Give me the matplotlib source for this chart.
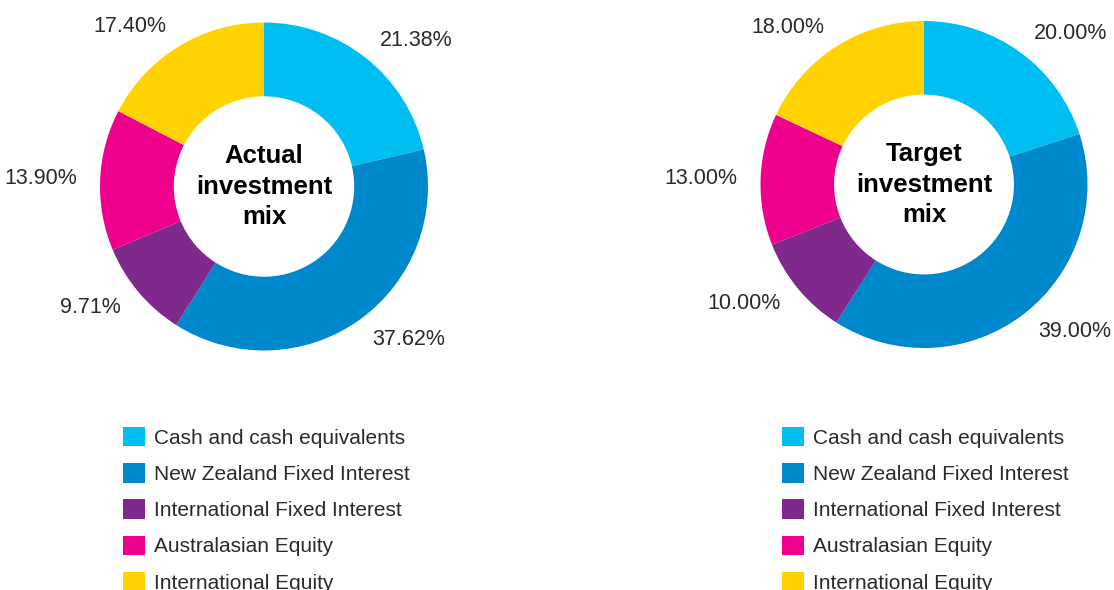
import matplotlib
matplotlib.use("Agg")
import matplotlib.pyplot as plt

plt.rcParams['font.family'] = ['Liberation Sans', 'DejaVu Sans']

categories = ["Cash and cash equivalents", "New Zealand Fixed Interest",
              "International Fixed Interest", "Australasian Equity",
              "International Equity"]
actual_values = [21.38, 37.62, 9.71, 13.90, 17.40]
target_values = [20.00, 39.00, 10.00, 13.00, 18.00]
colors = ["#00BDF2", "#0088CC", "#80298C", "#EC008C", "#FFD200"]
titles = ["Actual\ninvestment\nmix", "Target\ninvestment\nmix"]

W, H = 1114, 590
fig = plt.figure(figsize=(W / 100, H / 100), dpi=100)

text_color = "#2a2a2a"
lim = 1.4


def add_donut(cx, cy, r, values, title):
    size = 2 * lim * r
    ax = fig.add_axes([(cx - size / 2) / W, (H - cy - size / 2) / H, size / W, size / H])
    labels = [f"{v:.2f}%" for v in values]
    wedges, _ = ax.pie(values, colors=colors, startangle=90, counterclock=False,
                       labels=labels, labeldistance=1.14,
                       wedgeprops=dict(width=0.45, linewidth=0),
                       textprops=dict(fontsize=15.5, color=text_color))
    ax.set_xlim(-lim, lim)
    ax.set_ylim(-lim, lim)
    ax.set_aspect('equal')
    ax.axis('off')
    ax.text(0, 0, title, ha='center', va='center', fontsize=18.5,
            fontweight='bold', color='#000000', linespacing=1.33)
    return ax, wedges


ax1, w1 = add_donut(264, 186.5, 164, actual_values, titles[0])
ax2, w2 = add_donut(924, 184.5, 163.5, target_values, titles[1])

for wedges, x0 in ((w1, 123), (w2, 782)):
    fig.legend(wedges, categories, loc='upper left',
               bbox_to_anchor=(x0 / W, 1 - 427 / H), bbox_transform=fig.transFigure,
               frameon=False, fontsize=15, borderpad=0, borderaxespad=0,
               handlelength=1.05, handleheight=1.05, handletextpad=0.45,
               labelspacing=0.74, labelcolor=text_color)

fig.savefig("out.png", dpi=100)
